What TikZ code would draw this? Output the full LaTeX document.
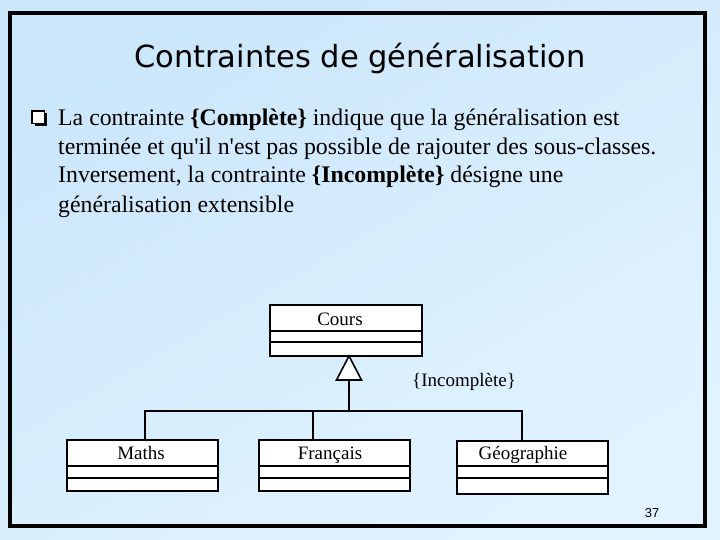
\documentclass[tikz,border=0pt]{standalone}
\usepackage{fontspec}
\setmainfont{Liberation Serif}[Ligatures=TeXOff]
\newfontfamily\titlefont{DejaVu Sans}
\newfontfamily\numfont{Liberation Sans}
\definecolor{bgA}{RGB}{203,231,250}
\definecolor{bgB}{RGB}{226,243,255}
\tikzset{
  umlbox/.style={draw=black, line width=2pt, fill=white},
  conn/.style={draw=black, line width=2pt},
  body/.style={anchor=base west, inner sep=0pt, font=\fontsize{23.8}{28}\selectfont},
  cname/.style={anchor=base, inner sep=0pt, font=\fontsize{19}{22}\selectfont},
}
\begin{document}
\begin{tikzpicture}[x=1pt,y=-1pt]
\useasboundingbox (0,0) rectangle (720,540);
\shade[top color=bgA, bottom color=bgB, shading angle=30] (0,0) rectangle (720,540);
\draw[line width=4pt] (10,13) rectangle (705,526);
% title
\node[anchor=base, inner sep=0pt, font=\titlefont\fontsize{30.5}{34}\selectfont] (title) at (360,68) {Contraintes de généralisation};
% bullet
\fill (34.5,113.5) rectangle (47,126);
\draw[line width=1.2pt, fill=white] (32,111) rectangle (44.5,123.5);
\node[body] (l1) at (58,126) {La contrainte \textbf{\{Complète\}} indique que la généralisation est};
\node[body] (l2) at (58,155) {terminée et qu'il n'est pas possible de rajouter des sous-classes.};
\node[body] (l3) at (58,183) {Inversement, la contrainte \textbf{\{Incomplète\}} désigne une};
\node[body] (l4) at (58,212) {généralisation extensible};
% classes
\draw[umlbox] (270,305) rectangle (422,356);
\draw[line width=2pt] (270,331) -- (422,331) (270,342) -- (422,342);
\node[cname] (cours) at (340,325) {Cours};
\coordinate (coursB) at (349,356);
\draw[umlbox] (67,440) rectangle (218,491);
\draw[line width=2pt] (67,466) -- (218,466) (67,478) -- (218,478);
\node[cname] (maths) at (141,459) {Maths};
\draw[umlbox] (259,440) rectangle (410,491);
\draw[line width=2pt] (259,466) -- (410,466) (259,478) -- (410,478);
\node[cname] (fr) at (330,459) {Français};
\draw[umlbox] (457,441) rectangle (608,494);
\draw[line width=2pt] (457,466) -- (608,466) (457,478) -- (608,478);
\node[cname] (geo) at (523,459) {Géographie};
% generalization
\coordinate (triL) at (336.5,380);
\coordinate (triR) at (361.5,380);
\coordinate (triB) at (349,380);
\coordinate (bus) at (349,411);
\draw[line width=1.6pt, fill=white] (coursB) -- (triR) -- (triL) -- cycle;
\coordinate (mT) at (145,440);
\coordinate (fT) at (313,440);
\coordinate (gT) at (522,441);
\draw[conn] (triB) -- (bus);
\draw[conn] (mT) -- (145,411) -- (522,411) -- (gT);
\draw[conn] (fT) -- (313,411);
\node[cname, anchor=base west] (inc) at (412,386) {\{Incomplète\}};
\node[anchor=base, inner sep=0pt, font=\numfont\fontsize{13}{15}\selectfont] (pg) at (652,517) {37};
\end{tikzpicture}
\end{document}
